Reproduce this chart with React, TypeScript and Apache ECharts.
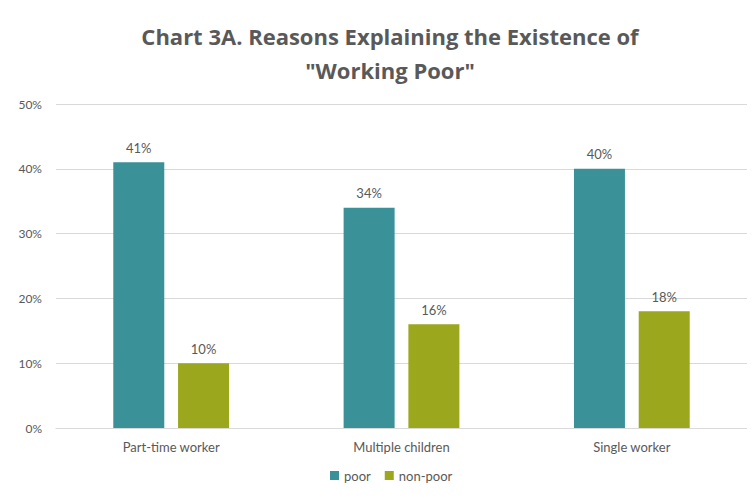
import React, { useEffect, useRef } from "react";
import * as echarts from "echarts";

const categories = ["Part-time worker", "Multiple children", "Single worker"];
const poor = [41, 34, 40];
const nonPoor = [10, 16, 18];
const yTicks = [0, 10, 20, 30, 40, 50];

const FONT = "Lato, 'Open Sans', sans-serif";

export default function App() {
  const ref = useRef<HTMLDivElement>(null);
  useEffect(() => {
    if (!ref.current) return;
    const chart = echarts.init(ref.current, null, { renderer: "svg" });
    chart.setOption({
      animation: false,
      backgroundColor: "#ffffff",
      title: {
        text: 'Chart 3A. Reasons Explaining the Existence of\n"Working Poor"',
        left: 385,
        textAlign: "center",
        top: 14,
        textStyle: {
          fontFamily: "'Open Sans', sans-serif",
          fontSize: 22,
          fontWeight: "bold",
          color: "#595959",
          lineHeight: 34,
        },
      },
      graphic: [
        {
          type: "rect",
          z: 100,
          silent: true,
          shape: { x: 4, y: 6, width: 2, height: 493 },
          style: { fill: "#3a3a3a" },
        },
        {
          type: "rect",
          z: 100,
          silent: true,
          shape: { x: 4, y: 6, width: 751, height: 2 },
          style: { fill: "#3a3a3a" },
        },
      ],
      legend: {
        bottom: 12,
        left: 385 - 60,
        itemWidth: 9,
        itemHeight: 9,
        itemGap: 14,
        icon: "rect",
        textStyle: { fontFamily: FONT, fontSize: 13, color: "#595959" },
        data: ["poor", "non-poor"],
      },
      grid: { left: 56, right: 8, top: 104, bottom: 71 },
      xAxis: {
        type: "category",
        data: categories,
        axisLine: { lineStyle: { color: "#d9d9d9" } },
        axisTick: { show: false },
        axisLabel: { fontFamily: FONT, fontSize: 13, color: "#595959", margin: 12 },
      },
      yAxis: {
        type: "value",
        min: yTicks[0],
        max: yTicks[yTicks.length - 1],
        interval: 10,
        axisLine: { show: false },
        axisTick: { show: false },
        splitLine: { lineStyle: { color: "#d9d9d9" } },
        axisLabel: {
          fontFamily: FONT,
          fontSize: 12,
          color: "#595959",
          margin: 14,
          formatter: "{value}%",
        },
      },
      series: [
        {
          name: "poor",
          type: "bar",
          data: poor,
          barWidth: 51,
          barGap: "27%",
          itemStyle: { color: "#3a9198" },
          label: {
            show: true,
            position: "top",
            distance: 8,
            formatter: "{c}%",
            fontFamily: FONT,
            fontSize: 13,
            color: "#595959",
          },
        },
        {
          name: "non-poor",
          type: "bar",
          data: nonPoor,
          barWidth: 51,
          itemStyle: { color: "#9ba71c" },
          label: {
            show: true,
            position: "top",
            distance: 8,
            formatter: "{c}%",
            fontFamily: FONT,
            fontSize: 13,
            color: "#595959",
          },
        },
      ],
    });
    return () => chart.dispose();
  }, []);
  return (
    <div style={{ width: 755, height: 499, margin: -8, boxShadow: "inset 6px 8px 0 -4px #3a3a3a" }}>
      <div ref={ref} style={{ width: 755, height: 499 }} />
    </div>
  );
}
